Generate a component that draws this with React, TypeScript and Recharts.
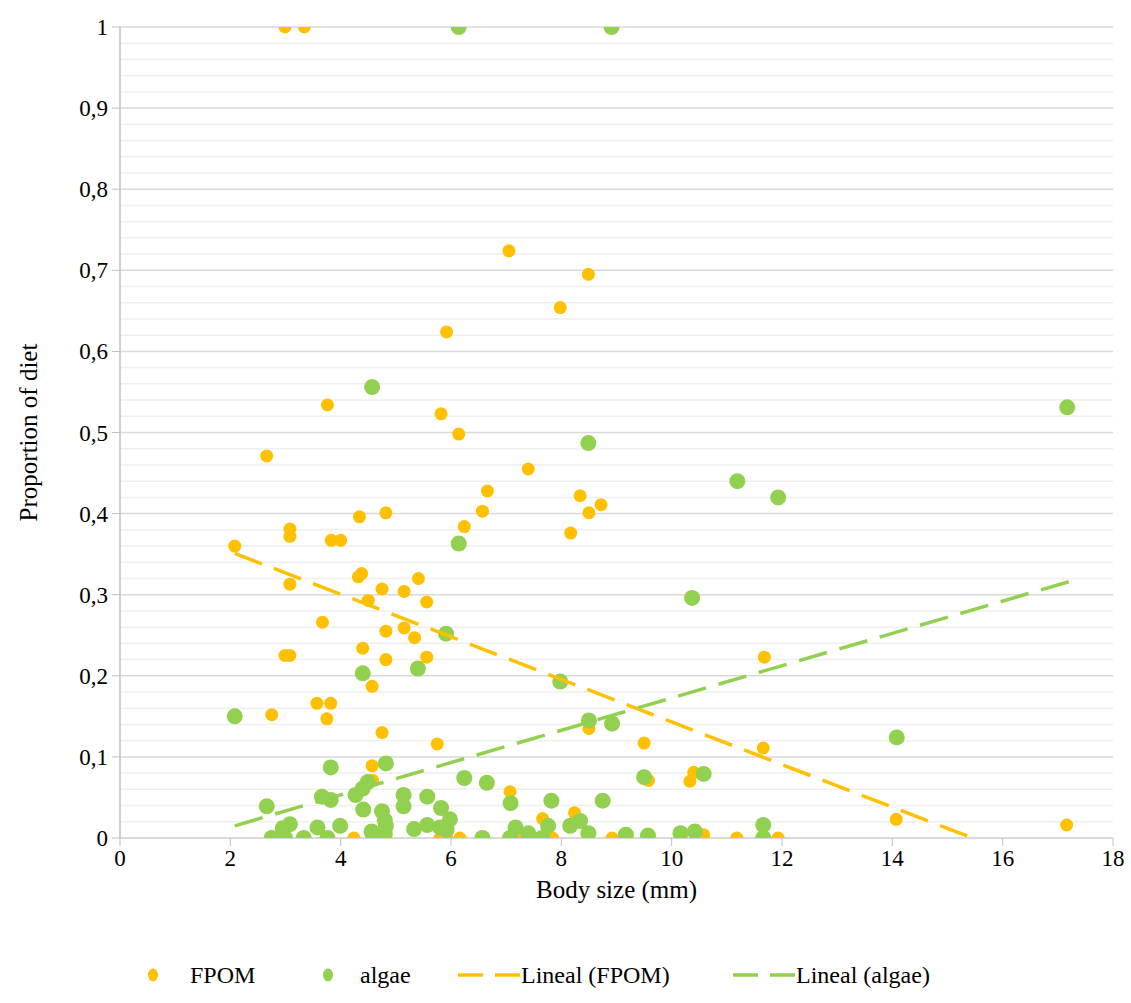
import React from 'react';
import { ScatterChart, Scatter, XAxis, YAxis, CartesianGrid, ReferenceLine } from 'recharts';

// body size (mm), proportion of diet
const fpom: [number, number][] = [
  [2.99, 1.0], [3.34, 1.0],
  [7.05, 0.724], [8.49, 0.695], [7.98, 0.654], [5.92, 0.624], [3.76, 0.534], [5.82, 0.523],
  [6.14, 0.498], [2.66, 0.471], [7.4, 0.455], [6.66, 0.428], [8.34, 0.422], [8.72, 0.411],
  [6.57, 0.403], [8.5, 0.401], [4.82, 0.401], [4.34, 0.396], [6.24, 0.384], [3.08, 0.381],
  [8.17, 0.376], [3.08, 0.372], [3.83, 0.367], [4.0, 0.367], [2.08, 0.36],
  [4.38, 0.326], [4.32, 0.322], [5.41, 0.32], [3.08, 0.313], [4.75, 0.307], [5.15, 0.304],
  [4.5, 0.293], [5.56, 0.291], [3.67, 0.266], [5.15, 0.259], [4.82, 0.255], [5.34, 0.247],
  [4.4, 0.234], [2.99, 0.225], [3.08, 0.225], [5.56, 0.223], [4.82, 0.22], [11.68, 0.223],
  [4.57, 0.187], [3.57, 0.166], [3.82, 0.166], [2.75, 0.152], [3.75, 0.147], [8.5, 0.135],
  [4.75, 0.13], [9.5, 0.117], [5.75, 0.116], [11.66, 0.111], [4.57, 0.089], [10.4, 0.081],
  [9.58, 0.071], [4.58, 0.071], [10.33, 0.07], [7.07, 0.057], [8.24, 0.031], [7.66, 0.024],
  [14.07, 0.023], [17.16, 0.016],
  [4.24, 0], [4.74, 0], [5.8, 0], [5.92, 0], [6.16, 0], [7.19, 0], [7.84, 0], [8.92, 0],
  [9.18, 0], [10.17, 0], [10.58, 0.004], [11.18, 0], [11.93, 0],
];

const algae: [number, number][] = [
  [6.14, 1.0], [8.91, 1.0], [4.57, 0.556], [17.17, 0.531], [8.49, 0.487], [11.19, 0.44],
  [11.93, 0.42], [6.14, 0.363], [10.37, 0.296], [5.91, 0.252], [5.4, 0.209], [4.4, 0.203],
  [7.98, 0.193], [2.08, 0.15], [8.5, 0.145], [8.92, 0.141], [14.08, 0.124], [3.82, 0.087],
  [4.82, 0.092], [10.58, 0.079], [9.5, 0.075], [6.24, 0.074], [4.49, 0.069], [6.65, 0.068],
  [4.4, 0.061], [4.27, 0.053], [5.14, 0.053], [3.66, 0.051], [5.57, 0.051], [3.82, 0.047],
  [7.82, 0.046], [8.75, 0.046], [7.08, 0.043], [2.66, 0.039], [5.14, 0.039], [5.82, 0.037],
  [4.41, 0.035], [4.75, 0.033], [4.8, 0.022], [5.98, 0.023], [8.34, 0.021], [3.08, 0.017],
  [5.57, 0.016], [4.82, 0.015], [3.99, 0.015], [7.76, 0.015], [8.16, 0.015], [11.66, 0.016],
  [2.95, 0.012], [3.58, 0.013], [5.8, 0.013], [7.17, 0.013], [5.33, 0.011], [5.92, 0.01],
  [4.56, 0.008], [10.42, 0.008], [7.4, 0.006], [8.49, 0.006], [10.16, 0.006], [9.17, 0.004],
  [9.57, 0.003], [4.8, 0.005], [4.7, 0.002],
  [2.75, 0], [2.99, 0], [3.33, 0], [3.76, 0], [4.59, 0], [6.57, 0], [7.07, 0], [7.65, 0], [11.66, 0],
];

// linear trend lines (end points)
const fpomTrend: [number, number][] = [[2.08, 0.351], [15.45, 0]];
const algaeTrend: [number, number][] = [[2.08, 0.015], [17.2, 0.316]];

const xTicks = [0, 2, 4, 6, 8, 10, 12, 14, 16, 18];
const yTicks = [0, 0.1, 0.2, 0.3, 0.4, 0.5, 0.6, 0.7, 0.8, 0.9, 1];

const ORANGE = '#FFC000';
const GREEN = '#92D050';
const FONT = 'Liberation Serif';

const toPts = (arr: [number, number][]) => arr.map(([x, y]) => ({ x, y }));

// minor grid every 0.02
const minorLines: number[] = [];
for (let i = 1; i < 50; i++) {
  if (i % 5 !== 0) minorLines.push(i / 50);
}

const YTick = (props: any) => {
  const { x, y, payload } = props;
  return (
    <text x={x - 2} y={y} dy={8} textAnchor="end" style={{ fontFamily: FONT, fontSize: 23 }} fill="#000">
      {String(payload.value).replace('.', ',')}
    </text>
  );
};

const XTick = (props: any) => {
  const { x, y, payload } = props;
  return (
    <text x={x} y={y} dy={18} textAnchor="middle" style={{ fontFamily: FONT, fontSize: 23 }} fill="#000">
      {payload.value}
    </text>
  );
};

const dot = (color: string, r: number) => (p: any) => (
  <circle cx={p.cx} cy={p.cy} r={r} fill={color} />
);

const LegendDash = ({ color }: { color: string }) => (
  <svg width={62} height={10} style={{ display: 'block' }}>
    <line x1={0} y1={5} x2={62} y2={5} stroke={color} strokeWidth={3.5} strokeDasharray="25 12" />
  </svg>
);

const App: React.FC = () => {
  const legendText: React.CSSProperties = {
    position: 'absolute',
    top: 961,
    fontFamily: FONT,
    fontSize: 24,
    lineHeight: '28px',
    color: '#000',
    whiteSpace: 'nowrap',
  };
  return (
    <div style={{ position: 'absolute', left: 0, top: 0, width: 1131, height: 1003, background: '#fff' }}>
      <ScatterChart width={1131} height={1003} margin={{ top: 27, right: 18, left: 0, bottom: 0 }}>
        {minorLines.map((v) => (
          <ReferenceLine key={v} y={v} stroke="#efefef" strokeWidth={1.5} ifOverflow="hidden" />
        ))}
        <CartesianGrid vertical={false} stroke="#d9d9d9" strokeWidth={1.5} />
        <XAxis
          type="number"
          dataKey="x"
          domain={[0, 18]}
          ticks={xTicks}
          height={165}
          tick={<XTick />}
          tickSize={8}
          axisLine={{ stroke: '#d9d9d9', strokeWidth: 2 }}
          tickLine={{ stroke: '#bfbfbf' }}
          label={{ value: 'Body size (mm)', position: 'insideTop', offset: 42, style: { fontFamily: FONT, fontSize: 25 }, fill: '#000' }}
        />
        <YAxis
          type="number"
          dataKey="y"
          domain={[0, 1]}
          ticks={yTicks}
          width={120}
          tick={<YTick />}
          tickSize={8}
          axisLine={{ stroke: '#bfbfbf', strokeWidth: 1.5 }}
          tickLine={{ stroke: '#bfbfbf' }}
          allowDataOverflow
          label={{ value: 'Proportion of diet', angle: -90, position: 'insideLeft', offset: 28, fill: '#000', style: { textAnchor: 'middle', fontFamily: FONT, fontSize: 25 } }}
        />
        <Scatter name="FPOM" data={toPts(fpom)} fill={ORANGE} shape={dot(ORANGE, 6.5)} isAnimationActive={false} />
        <Scatter name="algae" data={toPts(algae)} fill={GREEN} shape={dot(GREEN, 8)} isAnimationActive={false} />
        <Scatter
          name="Lineal (FPOM)"
          data={toPts(fpomTrend)}
          fill={ORANGE}
          line={{ stroke: ORANGE, strokeWidth: 3.5, strokeDasharray: '29 13' }}
          shape={() => <g />}
          isAnimationActive={false}
        />
        <Scatter
          name="Lineal (algae)"
          data={toPts(algaeTrend)}
          fill={GREEN}
          line={{ stroke: GREEN, strokeWidth: 3.5, strokeDasharray: '29 13' }}
          shape={() => <g />}
          isAnimationActive={false}
        />
      </ScatterChart>

      <svg style={{ position: 'absolute', left: 147, top: 967 }} width={12} height={16}>
        <ellipse cx={6} cy={8} rx={5} ry={6.5} fill={ORANGE} />
      </svg>
      <span style={{ ...legendText, left: 190 }}>FPOM</span>
      <svg style={{ position: 'absolute', left: 322, top: 967 }} width={12} height={16}>
        <ellipse cx={6} cy={8} rx={5} ry={6.5} fill={GREEN} />
      </svg>
      <span style={{ ...legendText, left: 360 }}>algae</span>
      <div style={{ position: 'absolute', left: 458, top: 970 }}>
        <LegendDash color={ORANGE} />
      </div>
      <span style={{ ...legendText, left: 521 }}>Lineal (FPOM)</span>
      <div style={{ position: 'absolute', left: 733, top: 970 }}>
        <LegendDash color={GREEN} />
      </div>
      <span style={{ ...legendText, left: 796 }}>Lineal (algae)</span>
    </div>
  );
};

export default App;
